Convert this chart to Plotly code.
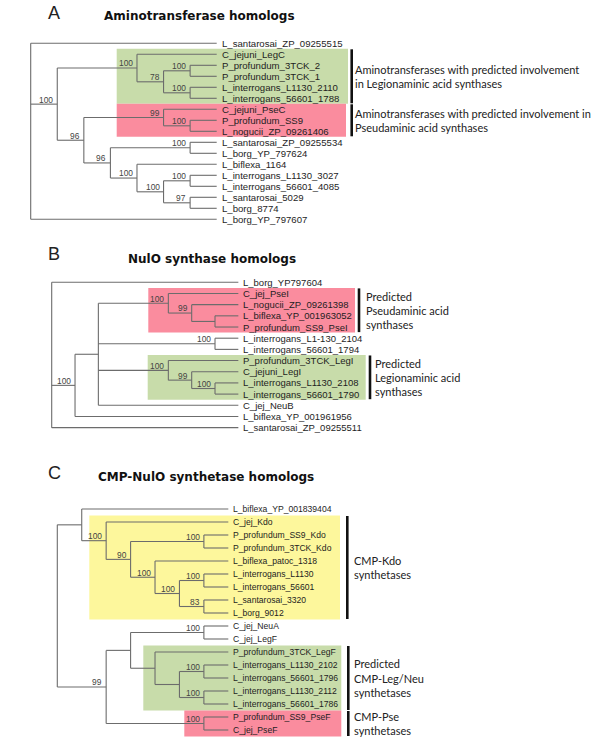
import plotly.graph_objects as go

W, H = 606, 743

# ---------------- data ----------------
# Panel A: Aminotransferase homologs
leaves_A = ["L_santarosai_ZP_09255515", "C_jejuni_LegC", "P_profundum_3TCK_2", "P_profundum_3TCK_1",
            "L_interrogans_L1130_2110", "L_interrogans_56601_1788", "C_jejuni_PseC", "P_profundum_SS9",
            "L_nogucii_ZP_09261406", "L_santarosai_ZP_09255534", "L_borg_YP_797624", "L_biflexa_1164",
            "L_interrogans_L1130_3027", "L_interrogans_56601_4085", "L_santarosai_5029", "L_borg_8774",
            "L_borg_YP_797607"]
leaf_parent_A = [0, 2, 4, 4, 5, 5, 7, 8, 8, 10, 10, 11, 13, 13, 14, 14, 0]
node_parent_A = [None, 0, 1, 2, 3, 3, 1, 6, 7, 6, 9, 9, 11, 12, 12]
node_level_A = [0, 1, 4, 5, 6, 6, 2, 5, 6, 3, 6, 4, 5, 6, 6]
node_support_A = [None, 100, 100, 78, 100, 100, 96, 99, 100, 96, 100, 100, 100, 100, 97]
leaf_level_A = 7
group_leaves_A = [(1, 5), (6, 8)]
group_text_A = [["Aminotransferases with predicted involvement", "in Legionaminic acid synthases"],
                ["Aminotransferases with predicted involvement in", "Pseudaminic acid synthases"]]

# Panel B: NulO synthase homologs
leaves_B = ["L_borg_YP797604", "C_jej_PseI", "L_nogucii_ZP_09261398", "L_biflexa_YP_001963052",
            "P_profundum_SS9_PseI", "L_interrogans_L1-130_2104", "L_interrogans_56601_1794",
            "P_profundum_3TCK_LegI", "C_jejuni_LegI", "L_interrogans_L1130_2108",
            "L_interrogans_56601_1790", "C_jej_NeuB", "L_biflexa_YP_001961956", "L_santarosai_ZP_09255511"]
leaf_parent_B = [0, 3, 4, 5, 5, 6, 6, 7, 8, 9, 9, 2, 1, 0]
node_parent_B = [None, 0, 1, 2, 3, 4, 2, 2, 7, 8]
node_level_B = [0, 1, 2, 5, 6, 7, 7, 5, 6, 7]
node_support_B = [None, 100, None, 100, 99, None, 100, 100, 99, 100]
leaf_level_B = 8
group_leaves_B = [(1, 4), (7, 10)]
group_text_B = [["Predicted", "Pseudaminic acid", "synthases"],
                ["Predicted", "Legionaminic acid", "synthases"]]

# Panel C: CMP-NulO synthetase homologs
leaves_C = ["L_biflexa_YP_001839404", "C_jej_Kdo", "P_profundum_SS9_Kdo", "P_profundum_3TCK_Kdo",
            "L_biflexa_patoc_1318", "L_interrogans_L1130", "L_interrogans_56601", "L_santarosai_3320",
            "L_borg_9012", "C_jej_NeuA", "C_jej_LegF", "P_profundum_3TCK_LegF",
            "L_interrogans_L1130_2102", "L_interrogans_56601_1796", "L_interrogans_L1130_2112",
            "L_interrogans_56601_1786", "P_profundum_SS9_PseF", "C_jej_PseF"]
leaf_parent_C = [1, 2, 4, 4, 5, 7, 7, 8, 8, 11, 11, 12, 14, 14, 15, 15, 16, 16]
node_parent_C = [None, 0, 1, 2, 3, 3, 5, 6, 6, 0, 9, 10, 10, 12, 13, 13, 9]
node_level_C = [0, 1, 2, 3, 6, 4, 5, 6, 6, 2, 3, 6, 4, 5, 6, 6, 6]
node_support_C = [None, None, 100, 90, 100, 100, 100, 100, 83, 99, None, 100, None, None, 100, 100, 100]
leaf_level_C = 7
group_leaves_C = [(1, 8), (11, 15), (16, 17)]
group_text_C = [["CMP-Kdo", "synthetases"],
                ["Predicted", "CMP-Leg/Neu", "synthetases"],
                ["CMP-Pse", "synthetases"]]

panel_letters = ["A", "B", "C"]
panel_titles = ["Aminotransferase homologs", "NulO synthase homologs", "CMP-NulO synthetase homologs"]

# ---------------- layout / style ----------------
GREEN = "#c8dcaa"
PINK = "#fa8c9e"
YELLOW = "#fdf79c"
LINE = "#6c6c6c"

panels = [
    dict(leaves=leaves_A, lp=leaf_parent_A, np_=node_parent_A, nl=node_level_A, ns=node_support_A,
         ll=leaf_level_A, groups=group_leaves_A, gtext=group_text_A,
         x0=30.7, step=26.57, y0=43.3, dy=11.0, lfont=9.6,
         gcolors=[GREEN, PINK], gx0=[116.7, 116.7], gx1=[348, 346],
         bx=[351.7, 351.7], tx=[353, 353], tline=13.4,
         letter=(54, 12.7), title=(102, 16)),
    dict(leaves=leaves_B, lp=leaf_parent_B, np_=node_parent_B, nl=node_level_B, ns=node_support_B,
         ll=leaf_level_B, groups=group_leaves_B, gtext=group_text_B,
         x0=51.7, step=23.33, y0=282.3, dy=11.18, lfont=9.5,
         gcolors=[PINK, GREEN], gx0=[148.3, 147.7], gx1=[355, 365.7],
         bx=[359, 370], tx=[363.7, 373], tline=13.9,
         letter=(54, 253.5), title=(125.5, 258.5)),
    dict(leaves=leaves_C, lp=leaf_parent_C, np_=node_parent_C, nl=node_level_C, ns=node_support_C,
         ll=leaf_level_C, groups=group_leaves_C, gtext=group_text_C,
         x0=57.3, step=24.43, y0=509, dy=13.0, lfont=8.6,
         gcolors=[YELLOW, GREEN, PINK], gx0=[89.3, 143.3, 184.3], gx1=[340, 341.3, 341.3],
         bx=[347.3, 348.3, 348.3], tx=[352, 352, 352], tline=14.2,
         letter=(54.5, 473), title=(96, 477)),
]

fig = go.Figure()
shapes = []
annotations = []

for p in panels:
    n_nodes = len(p["np_"])
    leaf_y = [p["y0"] + i * p["dy"] for i in range(len(p["leaves"]))]
    leaf_x = p["x0"] + p["ll"] * p["step"]
    node_x = [p["x0"] + lv * p["step"] for lv in p["nl"]]
    node_y = [None] * n_nodes
    kids = [[] for _ in range(n_nodes)]  # entries: ('leaf', i) or ('node', j)
    for i, par in enumerate(p["lp"]):
        kids[par].append(("leaf", i))
    for j, par in enumerate(p["np_"]):
        if par is not None:
            kids[par].append(("node", j))
    order = sorted(range(n_nodes), key=lambda j: -p["nl"][j])
    for j in order:
        ys = [leaf_y[k] if t == "leaf" else node_y[k] for t, k in kids[j]]
        node_y[j] = (min(ys) + max(ys)) / 2

    xs, ys = [], []
    for j in range(n_nodes):
        cy = [leaf_y[k] if t == "leaf" else node_y[k] for t, k in kids[j]]
        xs += [node_x[j], node_x[j], None]
        ys += [min(cy), max(cy), None]
        for t, k in kids[j]:
            if t == "leaf":
                xs += [node_x[j], leaf_x, None]
                ys += [leaf_y[k], leaf_y[k], None]
            else:
                xs += [node_x[j], node_x[k], None]
                ys += [node_y[k], node_y[k], None]
    fig.add_trace(go.Scatter(x=xs, y=ys, mode="lines", line=dict(color=LINE, width=1.1),
                             hoverinfo="skip", showlegend=False))

    # leaf labels
    for i, name in enumerate(p["leaves"]):
        annotations.append(dict(x=leaf_x + 3, y=leaf_y[i], text=name, showarrow=False,
                                xanchor="left", yanchor="middle",
                                font=dict(family="Liberation Sans, Arial", size=p["lfont"], color="#1e1e1e")))
    # bootstrap values
    for j, s in enumerate(p["ns"]):
        if s is not None:
            annotations.append(dict(x=node_x[j] - 2, y=node_y[j] - 4.6, text=str(s), showarrow=False,
                                    xanchor="right", yanchor="middle",
                                    font=dict(family="Liberation Sans, Arial", size=8.4, color="#444444")))
    # groups
    for g, (a, b) in enumerate(p["groups"]):
        ytop = leaf_y[a] - p["dy"] / 2
        ybot = leaf_y[b] + p["dy"] / 2
        shapes.append(dict(type="rect", xref="x", yref="y", x0=p["gx0"][g], x1=p["gx1"][g],
                           y0=ytop, y1=ybot, fillcolor=p["gcolors"][g], line=dict(width=0), layer="below"))
        shapes.append(dict(type="line", xref="x", yref="y", x0=p["bx"][g], x1=p["bx"][g],
                           y0=ytop + 0.5, y1=ybot - 0.5, line=dict(color="#111111", width=2.6)))
        lines = p["gtext"][g]
        ymid = (ytop + ybot) / 2
        for k, t in enumerate(lines):
            yy = ymid + (k - (len(lines) - 1) / 2) * p["tline"]
            annotations.append(dict(x=p["tx"][g], y=yy, text=t, showarrow=False,
                                    xanchor="left", yanchor="middle",
                                    font=dict(family="Lato, Open Sans", size=11, color="#222222")))

for k, p in enumerate(panels):
    annotations.append(dict(x=p["letter"][0], y=p["letter"][1], text=panel_letters[k], showarrow=False,
                            xanchor="center", yanchor="middle",
                            font=dict(family="Liberation Sans, Arial", size=18, color="#222222")))
    annotations.append(dict(x=p["title"][0], y=p["title"][1], text="<b>" + panel_titles[k] + "</b>",
                            showarrow=False, xanchor="left", yanchor="middle",
                            font=dict(family="DejaVu Sans", size=12, color="#111111")))

fig.update_layout(
    width=W, height=H, margin=dict(l=0, r=0, t=0, b=0),
    paper_bgcolor="white", plot_bgcolor="white",
    xaxis=dict(range=[0, W], visible=False, fixedrange=True),
    yaxis=dict(range=[H, 0], visible=False, fixedrange=True),
    shapes=shapes, annotations=annotations, showlegend=False,
)

fig.write_html("out.html", config={"displayModeBar": False},
               post_script="document.body.style.margin='0';document.body.style.overflow='hidden';")
